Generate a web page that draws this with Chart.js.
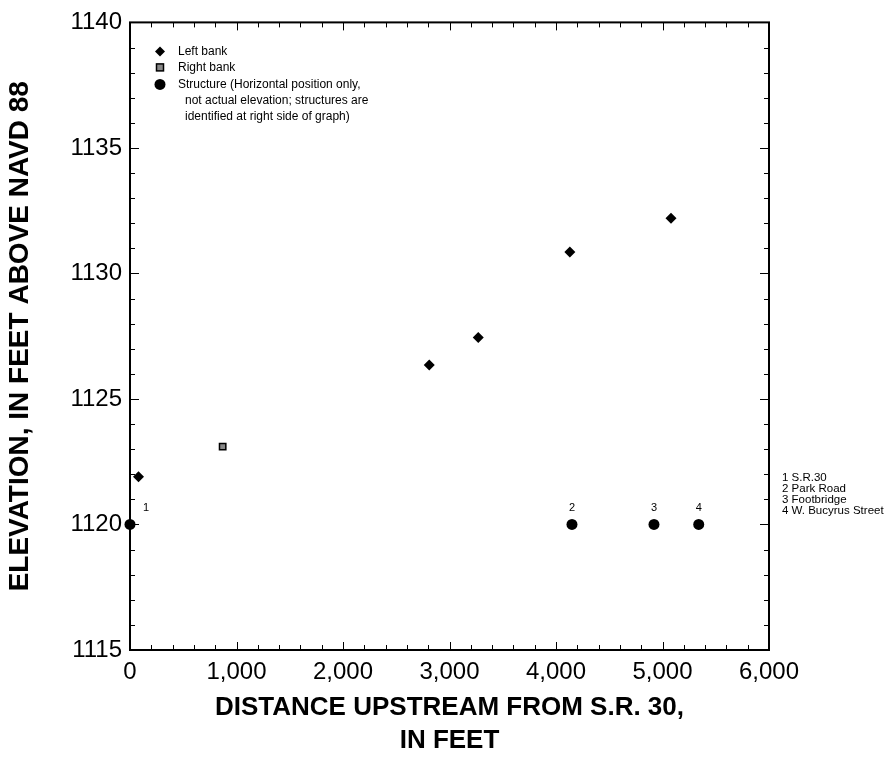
<!DOCTYPE html>
<html>
<head>
<meta charset="utf-8">
<script src="https://cdn.jsdelivr.net/npm/chart.js@4/dist/chart.umd.min.js"></script>
<style>
    body { margin: 0; background: #fff; }
    #wrap { width: 887px; height: 760px; }
</style>
</head>
<body>
<div id="wrap"><canvas id="chart" width="887" height="760"></canvas></div>
<script>
// values
const leftBankX  = [80, 2810, 3270, 4130, 5080];
const leftBankY  = [1121.9, 1126.35, 1127.45, 1130.85, 1132.2];
const rightBankX = [870];
const rightBankY = [1123.1];
const structX    = [0, 4150, 4920, 5340];
const structY    = [1120, 1120, 1120, 1120];
const structNums = ['1', '2', '3', '4'];
const structNames = ['S.R.30', 'Park Road', 'Footbridge', 'W. Bucyrus Street'];

const X_MIN = 0, X_MAX = 6000, X_STEP = 1000, X_MINOR = 200;
const Y_MIN = 1115, Y_MAX = 1140, Y_STEP = 5, Y_MINOR = 1;

const FONT = '"Liberation Sans", Arial, sans-serif';
const pts = (xs, ys) => xs.map((x, i) => ({ x, y: ys[i] }));

// inward ticks on all four sides + frame, legend, structure labels
const decor = {
    id: 'decor',
    afterDraw(chart) {
        const { ctx, chartArea: a } = chart;
        const xs = chart.scales.x, ys = chart.scales.y;
        ctx.save();
        ctx.strokeStyle = '#000';
        ctx.lineWidth = 1;
        for (let v = X_MIN; v <= X_MAX; v += X_MINOR) {
            const px = Math.round(xs.getPixelForValue(v)) + 0.5;
            const len = v % X_STEP === 0 ? 8 : 5;
            ctx.beginPath();
            ctx.moveTo(px, a.bottom); ctx.lineTo(px, a.bottom - len);
            ctx.moveTo(px, a.top); ctx.lineTo(px, a.top + len);
            ctx.stroke();
        }
        for (let v = Y_MIN; v <= Y_MAX; v += Y_MINOR) {
            const py = Math.round(ys.getPixelForValue(v)) + 0.5;
            const len = v % Y_STEP === 0 ? 9 : 5;
            ctx.beginPath();
            ctx.moveTo(a.left, py); ctx.lineTo(a.left + len, py);
            ctx.moveTo(a.right, py); ctx.lineTo(a.right - len, py);
            ctx.stroke();
        }
        ctx.lineWidth = 2;
        ctx.strokeRect(a.left, a.top, a.right - a.left, a.bottom - a.top);

        // legend
        const lx = a.left + 30, tx = a.left + 48;
        const rows = [a.top + 29, a.top + 45, a.top + 62];
        ctx.fillStyle = '#000';
        ctx.beginPath();
        ctx.moveTo(lx, rows[0] - 5); ctx.lineTo(lx + 5, rows[0]);
        ctx.lineTo(lx, rows[0] + 5); ctx.lineTo(lx - 5, rows[0]);
        ctx.closePath(); ctx.fill();
        ctx.fillStyle = '#888';
        ctx.fillRect(lx - 3.5, rows[1] - 3.5, 7, 7);
        ctx.lineWidth = 1.5;
        ctx.strokeRect(lx - 3.5, rows[1] - 3.5, 7, 7);
        ctx.fillStyle = '#000';
        ctx.beginPath(); ctx.arc(lx, rows[2], 5.5, 0, Math.PI * 2); ctx.fill();

        ctx.font = '12px ' + FONT;
        ctx.textBaseline = 'middle';
        ctx.textAlign = 'left';
        ctx.fillText('Left bank', tx, rows[0]);
        ctx.fillText('Right bank', tx, rows[1]);
        ctx.fillText('Structure (Horizontal position only,', tx, rows[2]);
        ctx.fillText('not actual elevation; structures are', tx + 7, rows[2] + 16);
        ctx.fillText('identified at right side of graph)', tx + 7, rows[2] + 32);

        // structure numbers above dots
        ctx.font = '11px ' + FONT;
        ctx.textAlign = 'center';
        structX.forEach((x, i) => {
            const px = xs.getPixelForValue(x) + (i === 0 ? 16 : 0);
            const py = ys.getPixelForValue(structY[i]) - 17;
            ctx.fillText(structNums[i], px, py);
        });

        // structure key at right of graph
        ctx.font = '11.5px ' + FONT;
        ctx.textAlign = 'left';
        const y0 = ys.getPixelForValue(1120);
        structNames.forEach((n, i) => {
            ctx.fillText(structNums[i] + ' ' + n, a.right + 13, y0 - 47 + i * 11);
        });
        ctx.restore();
    }
};

new Chart(document.getElementById('chart'), {
    type: 'scatter',
    data: {
        datasets: [
            {
                label: 'Left bank',
                data: pts(leftBankX, leftBankY),
                pointStyle: 'rectRot',
                pointRadius: 5.5,
                backgroundColor: '#000',
                borderColor: '#000',
                borderWidth: 0,
                clip: false,
            },
            {
                label: 'Right bank',
                data: pts(rightBankX, rightBankY),
                pointStyle: 'rect',
                pointRadius: 4.5,
                backgroundColor: '#888',
                borderColor: '#000',
                borderWidth: 1.5,
                clip: false,
            },
            {
                label: 'Structure',
                data: pts(structX, structY),
                pointStyle: 'circle',
                pointRadius: 5.5,
                backgroundColor: '#000',
                borderColor: '#000',
                borderWidth: 0,
                clip: false,
            },
        ],
    },
    options: {
        responsive: false,
        animation: false,
        layout: { padding: { top: 16, right: 118, left: 0, bottom: 0 } },
        plugins: {
            legend: { display: false },
            tooltip: { enabled: false },
        },
        scales: {
            x: {
                type: 'linear',
                min: X_MIN,
                max: X_MAX,
                afterFit(s) { s.height = 110; },
                grid: { display: false, drawTicks: false },
                border: { display: false },
                ticks: {
                    stepSize: X_STEP,
                    padding: 8,
                    color: '#000',
                    font: { size: 24, family: FONT },
                    callback: v => v.toLocaleString('en-US'),
                    maxRotation: 0,
                },
                title: {
                    display: true,
                    text: ['DISTANCE UPSTREAM FROM S.R. 30,', 'IN FEET'],
                    color: '#000',
                    font: { size: 26, weight: 'bold', family: FONT, lineHeight: 1.25 },
                    padding: { top: 0, bottom: 3 },
                },
            },
            y: {
                type: 'linear',
                min: Y_MIN,
                max: Y_MAX,
                afterFit(s) { s.width = 130; },
                grid: { display: false, drawTicks: false },
                border: { display: false },
                ticks: {
                    stepSize: Y_STEP,
                    padding: 8,
                    color: '#000',
                    font: { size: 24, family: FONT },
                    callback: v => String(v),
                },
                title: {
                    display: true,
                    text: 'ELEVATION, IN FEET ABOVE NAVD 88',
                    color: '#000',
                    font: { size: 28, weight: 'bold', family: FONT },
                    padding: { top: 3, bottom: 0 },
                },
            },
        },
    },
    plugins: [decor],
});
</script>
</body>
</html>
